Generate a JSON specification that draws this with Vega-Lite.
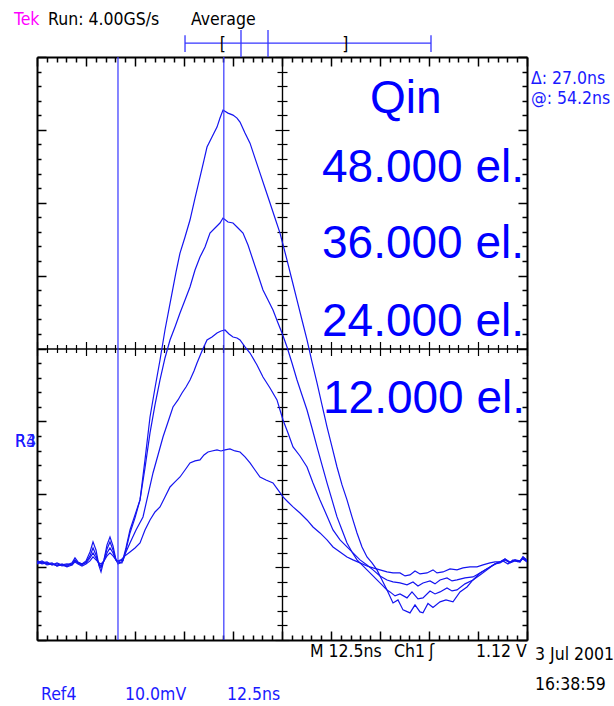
{
  "$schema": "https://vega.github.io/schema/vega-lite/v6.json",
  "width": 490,
  "height": 583,
  "autosize": {"type": "none"},
  "padding": {"left": 37, "top": 57, "right": 87, "bottom": 66},
  "background": "white",
  "config": {
    "view": {"stroke": null},
    "axis": {"labels": false, "title": null, "grid": false, "domainColor": "black", "tickColor": "black"}
  },
  "datasets": {
    "traces": [
      {"q":48000,"t":0,"mv":-29.15},{"q":48000,"t":1.28,"mv":-29.42},{"q":48000,"t":2.55,"mv":-29.29},{"q":48000,"t":3.83,"mv":-29.7},{"q":48000,"t":5.1,"mv":-29.56},{"q":48000,"t":6.38,"mv":-29.84},{"q":48000,"t":7.65,"mv":-29.7},{"q":48000,"t":8.93,"mv":-29.42},{"q":48000,"t":9.69,"mv":-28.74},{"q":48000,"t":10.46,"mv":-29.29},{"q":48000,"t":11.48,"mv":-29.56},{"q":48000,"t":12.5,"mv":-29.15},{"q":48000,"t":13.52,"mv":-27.92},{"q":48000,"t":14.29,"mv":-26.54},{"q":48000,"t":15.05,"mv":-27.64},{"q":48000,"t":15.82,"mv":-29.84},{"q":48000,"t":16.33,"mv":-30.66},{"q":48000,"t":17.09,"mv":-29.01},{"q":48000,"t":17.86,"mv":-26.95},{"q":48000,"t":18.62,"mv":-25.86},{"q":48000,"t":19.39,"mv":-27.09},{"q":48000,"t":20.15,"mv":-29.01},{"q":48000,"t":20.66,"mv":-29.56},{"q":48000,"t":21.17,"mv":-29.42},{"q":48000,"t":21.68,"mv":-29.42},{"q":48000,"t":22.7,"mv":-27.37},{"q":48000,"t":23.72,"mv":-24.9},{"q":48000,"t":25.0,"mv":-22.84},{"q":48000,"t":26.28,"mv":-20.78},{"q":48000,"t":27.55,"mv":-15.29},{"q":48000,"t":28.83,"mv":-9.4},{"q":48000,"t":30.1,"mv":-5.42},{"q":48000,"t":31.38,"mv":-1.58},{"q":48000,"t":32.65,"mv":2.54},{"q":48000,"t":34.44,"mv":7.61},{"q":48000,"t":35.46,"mv":10.49},{"q":48000,"t":36.48,"mv":13.1},{"q":48000,"t":37.76,"mv":15.3},{"q":48000,"t":39.03,"mv":17.63},{"q":48000,"t":40.31,"mv":20.65},{"q":48000,"t":41.58,"mv":23.53},{"q":48000,"t":42.6,"mv":25.86},{"q":48000,"t":43.37,"mv":27.64},{"q":48000,"t":44.64,"mv":29.01},{"q":48000,"t":45.92,"mv":30.38},{"q":48000,"t":46.68,"mv":31.62},{"q":48000,"t":47.45,"mv":32.72},{"q":48000,"t":48.72,"mv":32.3},{"q":48000,"t":50.0,"mv":32.03},{"q":48000,"t":51.02,"mv":31.62},{"q":48000,"t":51.79,"mv":31.07},{"q":48000,"t":53.06,"mv":29.56},{"q":48000,"t":54.34,"mv":28.18},{"q":48000,"t":55.61,"mv":26.13},{"q":48000,"t":56.89,"mv":24.07},{"q":48000,"t":58.16,"mv":22.02},{"q":48000,"t":59.44,"mv":19.96},{"q":48000,"t":60.71,"mv":17.9},{"q":48000,"t":61.99,"mv":15.84},{"q":48000,"t":63.78,"mv":12.14},{"q":48000,"t":65.05,"mv":9.4},{"q":48000,"t":66.33,"mv":6.65},{"q":48000,"t":67.6,"mv":3.91},{"q":48000,"t":68.88,"mv":1.17},{"q":48000,"t":70.15,"mv":-1.85},{"q":48000,"t":71.43,"mv":-4.73},{"q":48000,"t":72.7,"mv":-7.75},{"q":48000,"t":73.98,"mv":-10.77},{"q":48000,"t":75.26,"mv":-13.51},{"q":48000,"t":76.53,"mv":-16.26},{"q":48000,"t":77.81,"mv":-18.72},{"q":48000,"t":79.08,"mv":-20.78},{"q":48000,"t":80.36,"mv":-23.11},{"q":48000,"t":81.63,"mv":-25.31},{"q":48000,"t":82.91,"mv":-27.23},{"q":48000,"t":84.18,"mv":-28.6},{"q":48000,"t":85.46,"mv":-29.42},{"q":48000,"t":86.73,"mv":-30.38},{"q":48000,"t":88.01,"mv":-31.76},{"q":48000,"t":89.29,"mv":-33.13},{"q":48000,"t":90.82,"mv":-34.91},{"q":48000,"t":92.09,"mv":-34.5},{"q":48000,"t":93.37,"mv":-35.87},{"q":48000,"t":95.15,"mv":-36.28},{"q":48000,"t":96.43,"mv":-35.19},{"q":48000,"t":97.7,"mv":-36.15},{"q":48000,"t":98.47,"mv":-36.28},{"q":48000,"t":99.74,"mv":-34.98},{"q":48000,"t":101.02,"mv":-35.53},{"q":48000,"t":102.81,"mv":-34.77},{"q":48000,"t":104.34,"mv":-34.5},{"q":48000,"t":106.12,"mv":-34.77},{"q":48000,"t":107.91,"mv":-33.4},{"q":48000,"t":109.69,"mv":-32.72},{"q":48000,"t":111.22,"mv":-31.76},{"q":48000,"t":113.01,"mv":-30.8},{"q":48000,"t":114.29,"mv":-30.38},{"q":48000,"t":115.56,"mv":-29.97},{"q":48000,"t":116.84,"mv":-29.56},{"q":48000,"t":118.11,"mv":-29.29},{"q":48000,"t":119.39,"mv":-28.88},{"q":48000,"t":120.66,"mv":-29.42},{"q":48000,"t":121.94,"mv":-29.01},{"q":48000,"t":123.21,"mv":-29.29},{"q":48000,"t":123.98,"mv":-28.6},{"q":48000,"t":125.0,"mv":-29.15},
      {"q":36000,"t":0,"mv":-29.42},{"q":36000,"t":1.28,"mv":-29.15},{"q":36000,"t":2.55,"mv":-29.56},{"q":36000,"t":3.83,"mv":-29.42},{"q":36000,"t":5.1,"mv":-29.84},{"q":36000,"t":6.38,"mv":-29.56},{"q":36000,"t":7.65,"mv":-29.84},{"q":36000,"t":8.93,"mv":-29.56},{"q":36000,"t":9.69,"mv":-29.01},{"q":36000,"t":10.46,"mv":-29.42},{"q":36000,"t":11.48,"mv":-29.7},{"q":36000,"t":12.5,"mv":-29.29},{"q":36000,"t":13.52,"mv":-28.46},{"q":36000,"t":14.29,"mv":-27.37},{"q":36000,"t":15.05,"mv":-28.33},{"q":36000,"t":15.82,"mv":-29.7},{"q":36000,"t":16.33,"mv":-30.11},{"q":36000,"t":17.09,"mv":-29.01},{"q":36000,"t":17.86,"mv":-27.5},{"q":36000,"t":18.62,"mv":-26.54},{"q":36000,"t":19.39,"mv":-27.64},{"q":36000,"t":20.15,"mv":-29.01},{"q":36000,"t":20.66,"mv":-29.29},{"q":36000,"t":21.17,"mv":-29.42},{"q":36000,"t":21.94,"mv":-29.15},{"q":36000,"t":22.7,"mv":-27.64},{"q":36000,"t":23.72,"mv":-25.31},{"q":36000,"t":25.0,"mv":-23.25},{"q":36000,"t":26.28,"mv":-20.78},{"q":36000,"t":27.55,"mv":-16.39},{"q":36000,"t":28.83,"mv":-11.59},{"q":36000,"t":30.1,"mv":-7.75},{"q":36000,"t":31.38,"mv":-4.32},{"q":36000,"t":32.65,"mv":-1.3},{"q":36000,"t":33.93,"mv":1.17},{"q":36000,"t":35.2,"mv":2.95},{"q":36000,"t":36.48,"mv":4.87},{"q":36000,"t":37.76,"mv":6.65},{"q":36000,"t":39.03,"mv":8.44},{"q":36000,"t":40.31,"mv":10.77},{"q":36000,"t":41.58,"mv":12.55},{"q":36000,"t":42.86,"mv":13.92},{"q":36000,"t":44.13,"mv":15.84},{"q":36000,"t":45.41,"mv":16.53},{"q":36000,"t":46.68,"mv":17.22},{"q":36000,"t":47.45,"mv":17.9},{"q":36000,"t":48.72,"mv":17.35},{"q":36000,"t":50.0,"mv":17.22},{"q":36000,"t":51.28,"mv":16.53},{"q":36000,"t":52.55,"mv":15.84},{"q":36000,"t":53.83,"mv":14.2},{"q":36000,"t":55.1,"mv":12.14},{"q":36000,"t":56.38,"mv":10.08},{"q":36000,"t":57.65,"mv":8.02},{"q":36000,"t":58.93,"mv":6.65},{"q":36000,"t":60.2,"mv":5.28},{"q":36000,"t":61.48,"mv":3.5},{"q":36000,"t":62.5,"mv":2.13},{"q":36000,"t":63.78,"mv":0.21},{"q":36000,"t":65.05,"mv":-1.99},{"q":36000,"t":66.33,"mv":-4.32},{"q":36000,"t":67.6,"mv":-6.38},{"q":36000,"t":68.88,"mv":-8.44},{"q":36000,"t":70.15,"mv":-10.91},{"q":36000,"t":71.43,"mv":-13.51},{"q":36000,"t":72.7,"mv":-15.98},{"q":36000,"t":73.98,"mv":-18.45},{"q":36000,"t":75.26,"mv":-20.78},{"q":36000,"t":76.53,"mv":-23.11},{"q":36000,"t":77.81,"mv":-24.9},{"q":36000,"t":79.08,"mv":-26.68},{"q":36000,"t":80.36,"mv":-27.92},{"q":36000,"t":81.63,"mv":-29.01},{"q":36000,"t":82.91,"mv":-29.7},{"q":36000,"t":84.18,"mv":-30.38},{"q":36000,"t":85.46,"mv":-31.07},{"q":36000,"t":86.73,"mv":-31.76},{"q":36000,"t":88.01,"mv":-32.44},{"q":36000,"t":89.29,"mv":-33.13},{"q":36000,"t":90.05,"mv":-33.4},{"q":36000,"t":91.33,"mv":-33.95},{"q":36000,"t":92.6,"mv":-33.68},{"q":36000,"t":94.39,"mv":-34.22},{"q":36000,"t":95.66,"mv":-33.4},{"q":36000,"t":97.19,"mv":-34.36},{"q":36000,"t":98.47,"mv":-34.22},{"q":36000,"t":100.26,"mv":-33.27},{"q":36000,"t":101.53,"mv":-33.68},{"q":36000,"t":102.81,"mv":-33.4},{"q":36000,"t":104.59,"mv":-32.85},{"q":36000,"t":105.87,"mv":-33.27},{"q":36000,"t":107.14,"mv":-33.13},{"q":36000,"t":109.18,"mv":-32.3},{"q":36000,"t":111.22,"mv":-31.76},{"q":36000,"t":113.01,"mv":-31.07},{"q":36000,"t":114.8,"mv":-30.38},{"q":36000,"t":116.07,"mv":-29.84},{"q":36000,"t":117.35,"mv":-29.42},{"q":36000,"t":118.88,"mv":-29.15},{"q":36000,"t":120.15,"mv":-29.56},{"q":36000,"t":121.43,"mv":-29.01},{"q":36000,"t":122.7,"mv":-29.29},{"q":36000,"t":123.98,"mv":-28.88},{"q":36000,"t":125.0,"mv":-29.29},
      {"q":24000,"t":0,"mv":-29.29},{"q":24000,"t":1.28,"mv":-29.56},{"q":24000,"t":2.55,"mv":-29.42},{"q":24000,"t":3.83,"mv":-29.7},{"q":24000,"t":5.1,"mv":-29.42},{"q":24000,"t":6.38,"mv":-29.7},{"q":24000,"t":7.65,"mv":-29.56},{"q":24000,"t":8.93,"mv":-29.7},{"q":24000,"t":9.69,"mv":-29.15},{"q":24000,"t":10.46,"mv":-29.42},{"q":24000,"t":11.48,"mv":-29.56},{"q":24000,"t":12.5,"mv":-29.42},{"q":24000,"t":13.52,"mv":-28.74},{"q":24000,"t":14.29,"mv":-28.05},{"q":24000,"t":15.05,"mv":-28.74},{"q":24000,"t":15.82,"mv":-29.56},{"q":24000,"t":16.33,"mv":-29.84},{"q":24000,"t":17.09,"mv":-29.15},{"q":24000,"t":17.86,"mv":-28.05},{"q":24000,"t":18.62,"mv":-27.37},{"q":24000,"t":19.39,"mv":-28.05},{"q":24000,"t":20.15,"mv":-29.01},{"q":24000,"t":20.66,"mv":-29.29},{"q":24000,"t":21.17,"mv":-29.15},{"q":24000,"t":21.94,"mv":-29.01},{"q":24000,"t":22.7,"mv":-27.92},{"q":24000,"t":23.72,"mv":-26.68},{"q":24000,"t":25.26,"mv":-24.9},{"q":24000,"t":27.04,"mv":-23.11},{"q":24000,"t":28.32,"mv":-20.1},{"q":24000,"t":29.59,"mv":-17.08},{"q":24000,"t":30.87,"mv":-14.61},{"q":24000,"t":32.14,"mv":-12.14},{"q":24000,"t":33.42,"mv":-10.08},{"q":24000,"t":34.69,"mv":-8.02},{"q":24000,"t":35.97,"mv":-7.06},{"q":24000,"t":36.99,"mv":-6.1},{"q":24000,"t":38.01,"mv":-5.28},{"q":24000,"t":39.03,"mv":-4.32},{"q":24000,"t":40.05,"mv":-3.09},{"q":24000,"t":40.82,"mv":-1.99},{"q":24000,"t":42.09,"mv":-0.34},{"q":24000,"t":43.37,"mv":1.17},{"q":24000,"t":44.64,"mv":1.58},{"q":24000,"t":45.92,"mv":2.13},{"q":24000,"t":46.94,"mv":2.4},{"q":24000,"t":47.96,"mv":2.54},{"q":24000,"t":48.98,"mv":1.99},{"q":24000,"t":50.0,"mv":1.58},{"q":24000,"t":51.02,"mv":1.44},{"q":24000,"t":51.79,"mv":1.17},{"q":24000,"t":53.06,"mv":0.21},{"q":24000,"t":54.34,"mv":-0.62},{"q":24000,"t":56.12,"mv":-2.26},{"q":24000,"t":57.65,"mv":-3.91},{"q":24000,"t":59.44,"mv":-5.42},{"q":24000,"t":61.22,"mv":-7.06},{"q":24000,"t":61.99,"mv":-8.44},{"q":24000,"t":62.76,"mv":-9.81},{"q":24000,"t":64.03,"mv":-11.59},{"q":24000,"t":65.31,"mv":-13.51},{"q":24000,"t":67.09,"mv":-14.75},{"q":24000,"t":68.88,"mv":-16.26},{"q":24000,"t":70.41,"mv":-18.45},{"q":24000,"t":72.19,"mv":-20.78},{"q":24000,"t":73.98,"mv":-22.98},{"q":24000,"t":75.51,"mv":-24.9},{"q":24000,"t":77.3,"mv":-26.27},{"q":24000,"t":79.08,"mv":-27.23},{"q":24000,"t":80.61,"mv":-28.05},{"q":24000,"t":82.4,"mv":-29.01},{"q":24000,"t":84.18,"mv":-29.7},{"q":24000,"t":85.71,"mv":-30.38},{"q":24000,"t":87.5,"mv":-31.21},{"q":24000,"t":89.29,"mv":-31.76},{"q":24000,"t":90.82,"mv":-32.03},{"q":24000,"t":92.6,"mv":-32.17},{"q":24000,"t":94.39,"mv":-32.44},{"q":24000,"t":95.92,"mv":-32.03},{"q":24000,"t":97.19,"mv":-32.58},{"q":24000,"t":98.47,"mv":-32.17},{"q":24000,"t":100.26,"mv":-31.89},{"q":24000,"t":101.53,"mv":-32.3},{"q":24000,"t":102.81,"mv":-31.76},{"q":24000,"t":104.59,"mv":-31.48},{"q":24000,"t":105.87,"mv":-31.89},{"q":24000,"t":107.14,"mv":-31.76},{"q":24000,"t":109.18,"mv":-31.48},{"q":24000,"t":111.22,"mv":-31.35},{"q":24000,"t":113.01,"mv":-30.8},{"q":24000,"t":114.29,"mv":-30.38},{"q":24000,"t":115.56,"mv":-29.97},{"q":24000,"t":116.84,"mv":-29.56},{"q":24000,"t":118.11,"mv":-29.42},{"q":24000,"t":119.39,"mv":-29.01},{"q":24000,"t":120.66,"mv":-29.42},{"q":24000,"t":121.94,"mv":-29.15},{"q":24000,"t":123.21,"mv":-29.29},{"q":24000,"t":123.98,"mv":-28.74},{"q":24000,"t":125.0,"mv":-29.15},
      {"q":12000,"t":0,"mv":-29.56},{"q":12000,"t":1.28,"mv":-29.29},{"q":12000,"t":2.55,"mv":-29.7},{"q":12000,"t":3.83,"mv":-29.56},{"q":12000,"t":5.1,"mv":-29.84},{"q":12000,"t":6.38,"mv":-29.7},{"q":12000,"t":7.65,"mv":-29.97},{"q":12000,"t":8.93,"mv":-29.7},{"q":12000,"t":9.69,"mv":-29.29},{"q":12000,"t":10.46,"mv":-29.56},{"q":12000,"t":11.48,"mv":-29.84},{"q":12000,"t":12.5,"mv":-29.56},{"q":12000,"t":13.52,"mv":-29.15},{"q":12000,"t":14.29,"mv":-28.6},{"q":12000,"t":15.05,"mv":-29.01},{"q":12000,"t":15.82,"mv":-29.42},{"q":12000,"t":16.33,"mv":-29.56},{"q":12000,"t":17.09,"mv":-29.15},{"q":12000,"t":17.86,"mv":-28.46},{"q":12000,"t":18.62,"mv":-28.05},{"q":12000,"t":19.39,"mv":-28.46},{"q":12000,"t":20.15,"mv":-29.01},{"q":12000,"t":20.66,"mv":-29.15},{"q":12000,"t":21.43,"mv":-29.01},{"q":12000,"t":22.45,"mv":-28.46},{"q":12000,"t":23.72,"mv":-27.92},{"q":12000,"t":25.0,"mv":-27.37},{"q":12000,"t":26.28,"mv":-26.68},{"q":12000,"t":27.55,"mv":-24.9},{"q":12000,"t":28.83,"mv":-23.53},{"q":12000,"t":30.1,"mv":-22.43},{"q":12000,"t":31.38,"mv":-21.74},{"q":12000,"t":32.65,"mv":-20.37},{"q":12000,"t":33.93,"mv":-19.0},{"q":12000,"t":35.2,"mv":-18.31},{"q":12000,"t":36.48,"mv":-17.63},{"q":12000,"t":37.76,"mv":-16.67},{"q":12000,"t":39.03,"mv":-15.71},{"q":12000,"t":40.31,"mv":-15.43},{"q":12000,"t":41.58,"mv":-15.29},{"q":12000,"t":42.6,"mv":-14.61},{"q":12000,"t":43.62,"mv":-14.2},{"q":12000,"t":44.64,"mv":-14.06},{"q":12000,"t":45.92,"mv":-13.92},{"q":12000,"t":46.94,"mv":-14.06},{"q":12000,"t":47.96,"mv":-13.92},{"q":12000,"t":49.23,"mv":-13.79},{"q":12000,"t":50.51,"mv":-14.06},{"q":12000,"t":51.79,"mv":-14.2},{"q":12000,"t":53.06,"mv":-14.88},{"q":12000,"t":54.34,"mv":-15.71},{"q":12000,"t":55.61,"mv":-16.67},{"q":12000,"t":56.89,"mv":-17.63},{"q":12000,"t":58.42,"mv":-18.04},{"q":12000,"t":60.2,"mv":-18.45},{"q":12000,"t":61.48,"mv":-19.41},{"q":12000,"t":62.76,"mv":-20.37},{"q":12000,"t":64.03,"mv":-21.06},{"q":12000,"t":65.31,"mv":-21.74},{"q":12000,"t":67.09,"mv":-22.57},{"q":12000,"t":68.88,"mv":-23.53},{"q":12000,"t":70.41,"mv":-24.49},{"q":12000,"t":72.19,"mv":-25.31},{"q":12000,"t":73.98,"mv":-26.27},{"q":12000,"t":75.51,"mv":-27.23},{"q":12000,"t":77.3,"mv":-27.92},{"q":12000,"t":79.08,"mv":-28.6},{"q":12000,"t":80.61,"mv":-29.01},{"q":12000,"t":82.4,"mv":-29.42},{"q":12000,"t":84.18,"mv":-29.84},{"q":12000,"t":85.71,"mv":-30.11},{"q":12000,"t":87.5,"mv":-30.38},{"q":12000,"t":89.29,"mv":-30.66},{"q":12000,"t":90.82,"mv":-30.8},{"q":12000,"t":92.6,"mv":-30.8},{"q":12000,"t":93.88,"mv":-31.21},{"q":12000,"t":95.15,"mv":-31.07},{"q":12000,"t":96.43,"mv":-30.52},{"q":12000,"t":97.7,"mv":-30.93},{"q":12000,"t":99.49,"mv":-30.8},{"q":12000,"t":101.02,"mv":-30.38},{"q":12000,"t":102.04,"mv":-30.8},{"q":12000,"t":103.57,"mv":-30.66},{"q":12000,"t":105.36,"mv":-30.25},{"q":12000,"t":107.14,"mv":-30.38},{"q":12000,"t":108.67,"mv":-30.11},{"q":12000,"t":110.46,"mv":-29.97},{"q":12000,"t":112.24,"mv":-29.97},{"q":12000,"t":113.78,"mv":-29.7},{"q":12000,"t":115.56,"mv":-29.42},{"q":12000,"t":116.84,"mv":-29.29},{"q":12000,"t":118.11,"mv":-29.29},{"q":12000,"t":119.39,"mv":-28.88},{"q":12000,"t":120.66,"mv":-29.29},{"q":12000,"t":121.94,"mv":-29.01},{"q":12000,"t":123.21,"mv":-29.15},{"q":12000,"t":123.98,"mv":-28.6},{"q":12000,"t":125.0,"mv":-29.01}
    ],
    "cursors": [
      {"cursor": "cursor 1", "t": 20.66, "lo": -40, "hi": 40},
      {"cursor": "cursor 2", "t": 47.66, "lo": -40, "hi": 40}
    ],
    "record": [
      {"part": "record bar", "t": 37.76, "t2": 100.51, "v": 41.91, "v2": 41.91},
      {"part": "record start", "t": 37.76, "t2": 37.76, "v": 43.0, "v2": 40.67},
      {"part": "record end", "t": 100.51, "t2": 100.51, "v": 43.0, "v2": 40.67},
      {"part": "marker 1", "t": 52.04, "t2": 52.04, "v": 43.69, "v2": 39.99},
      {"part": "marker 2", "t": 58.93, "t2": 58.93, "v": 43.69, "v2": 39.99}
    ],
    "small": [
      {"text": "Tek", "g": "tek", "t": -5.87, "v": 44.38},
      {"text": "Run: 4.00GS/s", "g": "black", "t": 2.81, "v": 44.38},
      {"text": "Average", "g": "black", "t": 39.29, "v": 44.38},
      {"text": "[", "g": "black", "t": 46.6, "v": 41.0},
      {"text": "]", "g": "black", "t": 77.9, "v": 41.0},
      {"text": "Δ: 27.0ns", "g": "blue", "t": 126.02, "v": 36.28},
      {"text": "@: 54.2ns", "g": "blue", "t": 126.02, "v": 33.54},
      {"text": "R3", "g": "blue", "t": -5.61, "v": -13.51},
      {"text": "R4", "g": "blue", "t": -5.61, "v": -13.51},
      {"text": "M 12.5ns", "g": "black", "t": 69.64, "v": -42.32},
      {"text": "Ch1", "g": "black", "t": 91.07, "v": -42.32},
      {"text": "ʃ", "g": "black", "t": 100.0, "v": -42.32},
      {"text": "1.12 V", "g": "black", "t": 111.99, "v": -42.32},
      {"text": "3 Jul 2001", "g": "black", "t": 127.04, "v": -42.73},
      {"text": "16:38:59", "g": "black", "t": 127.04, "v": -46.84},
      {"text": "Ref4", "g": "blue", "t": 1.02, "v": -48.22},
      {"text": "10.0mV", "g": "blue", "t": 22.45, "v": -48.22},
      {"text": "12.5ns", "g": "blue", "t": 48.47, "v": -48.22}
    ],
    "big": [
      {"text": "Qin", "t": 84.95, "v": 32.3},
      {"text": "48.000 el.", "t": 72.7, "v": 22.84},
      {"text": "36.000 el.", "t": 72.7, "v": 12.41},
      {"text": "24.000 el.", "t": 72.7, "v": 1.71},
      {"text": "12.000 el.", "t": 72.96, "v": -8.85}
    ]
  },
  "resolve": {"axis": {"x": "independent", "y": "independent"}},
  "layer": [
    {
      "data": {"name": "traces"},
      "mark": {"type": "line", "color": "#1414f0", "strokeWidth": 1.2, "clip": true},
      "encoding": {
        "x": {"field": "t", "type": "quantitative", "scale": {"domain": [0, 125], "nice": false, "zero": false},
          "axis": {"orient": "bottom", "values": [0,2.5,5,7.5,10,12.5,15,17.5,20,22.5,25,27.5,30,32.5,35,37.5,40,42.5,45,47.5,50,52.5,55,57.5,60,62.5,65,67.5,70,72.5,75,77.5,80,82.5,85,87.5,90,92.5,95,97.5,100,102.5,105,107.5,110,112.5,115,117.5,120,122.5,125],
            "tickSize": {"condition": {"test": "datum.value % 12.5 === 0", "value": -9}, "value": -5}, "tickWidth": 1.5, "domainWidth": 2, "labels": false, "title": null}},
        "y": {"field": "mv", "type": "quantitative", "scale": {"domain": [-40, 40], "nice": false, "zero": false},
          "axis": {"orient": "left", "values": [-40,-38,-36,-34,-32,-30,-28,-26,-24,-22,-20,-18,-16,-14,-12,-10,-8,-6,-4,-2,0,2,4,6,8,10,12,14,16,18,20,22,24,26,28,30,32,34,36,38,40],
            "tickSize": {"condition": {"test": "datum.value % 10 === 0", "value": -9}, "value": -4}, "tickWidth": 1.5, "domainWidth": 2, "labels": false, "title": null}},
        "detail": {"field": "q", "type": "nominal"}
      }
    },
    {
      "data": {"name": "cursors"},
      "mark": {"type": "rule", "color": "#3535ff", "strokeWidth": 1.2},
      "encoding": {
        "x": {"field": "t", "type": "quantitative", "scale": {"domain": [0, 125], "nice": false, "zero": false},
          "axis": {"orient": "top", "values": [0,2.5,5,7.5,10,12.5,15,17.5,20,22.5,25,27.5,30,32.5,35,37.5,40,42.5,45,47.5,50,52.5,55,57.5,60,62.5,65,67.5,70,72.5,75,77.5,80,82.5,85,87.5,90,92.5,95,97.5,100,102.5,105,107.5,110,112.5,115,117.5,120,122.5,125],
            "tickSize": {"condition": {"test": "datum.value % 12.5 === 0", "value": -9}, "value": -5}, "tickWidth": 1.5, "domainWidth": 2, "labels": false, "title": null}},
        "y": {"field": "lo", "type": "quantitative", "scale": {"domain": [-40, 40], "nice": false, "zero": false},
          "axis": {"orient": "right", "values": [-40,-38,-36,-34,-32,-30,-28,-26,-24,-22,-20,-18,-16,-14,-12,-10,-8,-6,-4,-2,0,2,4,6,8,10,12,14,16,18,20,22,24,26,28,30,32,34,36,38,40],
            "tickSize": {"condition": {"test": "datum.value % 10 === 0", "value": -9}, "value": -5}, "tickWidth": 1.5, "domainWidth": 2, "labels": false, "title": null}},
        "y2": {"field": "hi"}
      }
    },
    {
      "data": {"name": "record"},
      "mark": {"type": "rule", "color": "#3535ff", "strokeWidth": 1.3, "clip": false},
      "encoding": {
        "x": {"field": "t", "type": "quantitative", "scale": {"domain": [0, 125], "nice": false, "zero": false},
          "axis": {"orient": "bottom", "offset": -291.5, "values": [0,2.5,5,7.5,10,12.5,15,17.5,20,22.5,25,27.5,30,32.5,35,37.5,40,42.5,45,47.5,50,52.5,55,57.5,60,62.5,65,67.5,70,72.5,75,77.5,80,82.5,85,87.5,90,92.5,95,97.5,100,102.5,105,107.5,110,112.5,115,117.5,120,122.5,125],
            "tickSize": {"condition": {"test": "datum.value % 12.5 === 0", "value": 7}, "value": 4}, "tickWidth": 1.2, "domainWidth": 1.2, "labels": false, "title": null}},
        "x2": {"field": "t2"},
        "y": {"field": "v", "type": "quantitative", "scale": {"domain": [-40, 40], "nice": false, "zero": false},
          "axis": {"orient": "left", "offset": -245, "values": [-40,-38,-36,-34,-32,-30,-28,-26,-24,-22,-20,-18,-16,-14,-12,-10,-8,-6,-4,-2,0,2,4,6,8,10,12,14,16,18,20,22,24,26,28,30,32,34,36,38,40],
            "tickSize": {"condition": {"test": "datum.value % 10 === 0", "value": 7}, "value": 5}, "tickWidth": 1.2, "domainWidth": 1.2, "labels": false, "title": null}},
        "y2": {"field": "v2"}
      }
    },
    {
      "data": {"name": "small"},
      "mark": {"type": "text", "align": "left", "baseline": "alphabetic", "font": "Liberation Sans Narrow, DejaVu Sans Condensed, sans-serif", "fontSize": 17.5},
      "encoding": {
        "x": {"field": "t", "type": "quantitative", "scale": {"domain": [0, 125], "nice": false, "zero": false},
          "axis": {"orient": "top", "offset": -291.5, "values": [0,2.5,5,7.5,10,12.5,15,17.5,20,22.5,25,27.5,30,32.5,35,37.5,40,42.5,45,47.5,50,52.5,55,57.5,60,62.5,65,67.5,70,72.5,75,77.5,80,82.5,85,87.5,90,92.5,95,97.5,100,102.5,105,107.5,110,112.5,115,117.5,120,122.5,125],
            "tickSize": {"condition": {"test": "datum.value % 12.5 === 0", "value": 7}, "value": 4}, "tickWidth": 1.2, "domainWidth": 1.2, "labels": false, "title": null}},
        "y": {"field": "v", "type": "quantitative", "scale": {"domain": [-40, 40], "nice": false, "zero": false},
          "axis": {"orient": "right", "offset": -245, "values": [-40,-38,-36,-34,-32,-30,-28,-26,-24,-22,-20,-18,-16,-14,-12,-10,-8,-6,-4,-2,0,2,4,6,8,10,12,14,16,18,20,22,24,26,28,30,32,34,36,38,40],
            "tickSize": {"condition": {"test": "datum.value % 10 === 0", "value": 7}, "value": 5}, "tickWidth": 1.2, "domainWidth": 1.2, "labels": false, "title": null}},
        "text": {"field": "text"},
        "color": {"field": "g", "type": "nominal", "scale": {"domain": ["tek", "black", "blue"], "range": ["#ff00ff", "#000000", "#1a1aff"]}, "legend": null}
      }
    },
    {
      "data": {"name": "big"},
      "mark": {"type": "text", "align": "left", "baseline": "alphabetic", "font": "Liberation Sans", "fontSize": 46, "color": "#0000ff"},
      "encoding": {
        "x": {"field": "t", "type": "quantitative", "scale": {"domain": [0, 125], "nice": false, "zero": false}, "axis": null},
        "y": {"field": "v", "type": "quantitative", "scale": {"domain": [-40, 40], "nice": false, "zero": false}, "axis": null},
        "text": {"field": "text"}
      }
    }
  ]
}
